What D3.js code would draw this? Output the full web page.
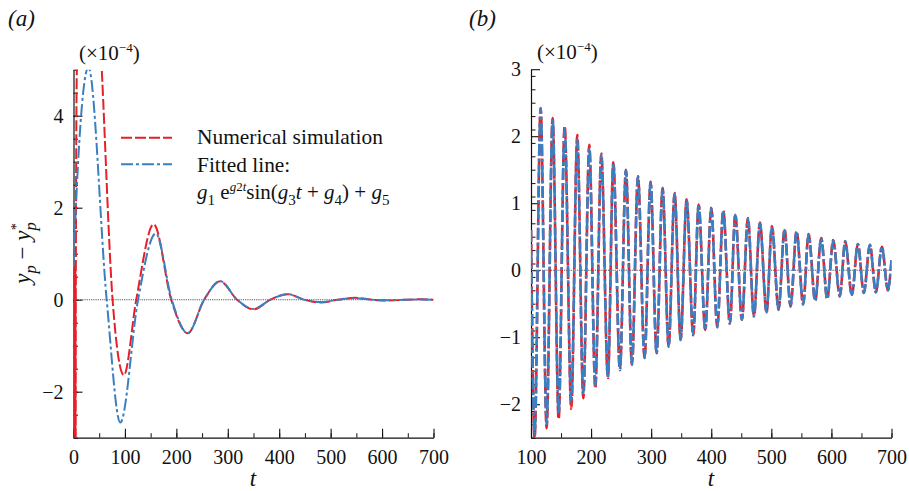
<!DOCTYPE html>
<html>
<head>
<meta charset="utf-8">
<script src="https://cdn.jsdelivr.net/npm/d3@7"></script>
<style>
  html, body { margin: 0; padding: 0; background: #fff; }
  svg { display: block; }
  svg text { font-family: 'Liberation Serif', 'Times New Roman', Times, 'DejaVu Serif', serif; fill: #111; }
</style>
</head>
<body>
<svg id="chart" width="909" height="491"></svg>
<script>
// ---------------- DATA ----------------
// Panel (a): numerical simulation (red) key points
const aNumT = [0, 0.5, 1, 1.5, 2, 2.5, 3, 3.5, 4, 4.6, 6.5, 28, 55, 76, 98, 122, 156, 190, 222, 254, 285, 318, 350, 383, 416, 449, 481, 514, 547, 580, 612, 645, 678, 700];
const aNumY = [-8, 0.7, -8, 0.7, -8, 0.7, -8, 0.7, -8, 0.7, 5, 11, 5, 0, -1.64, 0, 1.64, 0, -0.73, 0, 0.40, 0, -0.21, 0, 0.12, 0, -0.06, 0, 0.04, 0, -0.02, 0, 0.01, 0];
// Panel (a): fitted line (blue)
const aFitT = [0, 9, 29, 64.5, 91, 125.5, 160, 191, 222, 254, 286, 318, 350, 383, 416, 449, 481, 514, 547, 580, 612, 645, 678, 700];
const aFitY = [0.8, 3.0, 5.05, 0, -2.67, 0, 1.44, 0, -0.73, 0, 0.40, 0, -0.20, 0, 0.12, 0, -0.05, 0, 0.03, 0, -0.012, 0, 0.005, 0];

// Panel (b): extremes
const bPeakT = [116, 136, 156, 177, 197, 217, 237, 258, 278, 299, 319, 339, 359, 379, 400, 420, 440, 461, 481, 501, 522, 542, 562, 583, 603, 623, 644, 664, 684];
const bTroughT = [106, 126, 146, 167, 187, 207, 228, 248, 268, 289, 309, 329, 349, 370, 390, 410, 431, 451, 471, 492, 512, 532, 553, 573, 593, 614, 634, 654, 674, 694];
const bNumPeakY = [2.42, 2.27, 2.15, 2.02, 1.87, 1.74, 1.61, 1.50, 1.40, 1.32, 1.23, 1.15, 1.06, 0.98, 0.93, 0.89, 0.83, 0.78, 0.71, 0.66, 0.61, 0.58, 0.54, 0.48, 0.45, 0.43, 0.39, 0.38, 0.35];
const bNumTroughY = [-2.50, -2.36, -2.22, -2.07, -1.91, -1.76, -1.61, -1.49, -1.41, -1.31, -1.24, -1.14, -1.04, -0.97, -0.89, -0.85, -0.80, -0.74, -0.69, -0.63, -0.59, -0.54, -0.51, -0.46, -0.43, -0.39, -0.37, -0.34, -0.33, -0.30];
const bFitPeakY = [2.42, 2.25, 2.12, 1.95, 1.82, 1.71, 1.59, 1.49, 1.40, 1.32, 1.22, 1.14, 1.05, 0.975, 0.925, 0.885, 0.826, 0.77, 0.70, 0.65, 0.60, 0.58, 0.54, 0.48, 0.44, 0.43, 0.39, 0.38, 0.35];
const bFitTroughY = [-2.45, -2.30, -2.14, -1.98, -1.84, -1.72, -1.60, -1.49, -1.41, -1.31, -1.24, -1.14, -1.04, -0.965, -0.89, -0.85, -0.80, -0.74, -0.69, -0.63, -0.59, -0.54, -0.51, -0.46, -0.43, -0.39, -0.37, -0.34, -0.33, -0.30];
const bStartT = 100, bStartY = 0.6, bEndT = 700, bEndY = 0.15;

// Ticks
const aXTicks = [0, 100, 200, 300, 400, 500, 600, 700];
const aYTicks = [-2, 0, 2, 4];
const bXTicks = [100, 200, 300, 400, 500, 600, 700];
const bYTicks = [-2, -1, 0, 1, 2, 3];

const RED = "#e6202a";
const BLUE = "#3a7fc1";
const FONT = "'Liberation Serif', 'Times New Roman', Times, 'DejaVu Serif', serif";

// ---------------- DRAW ----------------
const svg = d3.select("#chart");

function makePanel(opt) {
  const g = svg.append("g");
  const x = d3.scaleLinear().domain(opt.xDom).range(opt.xRange);
  const y = d3.scaleLinear().domain(opt.yDom).range(opt.yRange);
  const clipId = "clip" + opt.id;
  svg.append("clipPath").attr("id", clipId).append("rect")
    .attr("x", opt.xRange[0]).attr("y", opt.yRange[1])
    .attr("width", opt.xRange[1] - opt.xRange[0])
    .attr("height", opt.yRange[0] - opt.yRange[1]);

  // minor ticks
  g.append("g").attr("transform", `translate(0,${opt.yRange[0]})`)
    .call(d3.axisBottom(x).tickValues(d3.range(opt.xDom[0], opt.xDom[1] + 0.001, 50)).tickFormat("").tickSizeInner(-4.5).tickSizeOuter(0))
    .call(s => s.select(".domain").remove());
  g.append("g").attr("transform", `translate(${opt.xRange[0]},0)`)
    .call(d3.axisLeft(y).tickValues(d3.range(opt.yDom[0], opt.yDom[1] + 1e-6, opt.yMinor)).tickFormat("").tickSizeInner(-4.5).tickSizeOuter(0))
    .call(s => s.select(".domain").remove());

  // major axes
  const xa = g.append("g").attr("transform", `translate(0,${opt.yRange[0]})`)
    .call(d3.axisBottom(x).tickValues(opt.xTicks).tickFormat(d3.format("d")).tickSizeInner(-9).tickSizeOuter(0).tickPadding(12));
  const ya = g.append("g").attr("transform", `translate(${opt.xRange[0]},0)`)
    .call(d3.axisLeft(y).tickValues(opt.yTicks).tickFormat(d => d < 0 ? "\u2212" + Math.abs(d) : d).tickSizeInner(-9).tickSizeOuter(0).tickPadding(10));
  [xa, ya].forEach(a => {
    a.attr("font-family", FONT).attr("font-size", 20);
    a.selectAll("text").attr("font-size", 20).attr("font-family", FONT).attr("fill", "#111");
    a.select(".domain").attr("stroke", "#111").attr("stroke-width", 1.2);
    a.selectAll(".tick line").attr("stroke", "#111").attr("stroke-width", 1.1);
  });
  g.selectAll(".tick line").attr("stroke", "#111");

  // zero line
  g.append("line")
    .attr("x1", opt.xRange[0]).attr("x2", opt.xRange[1])
    .attr("y1", y(0)).attr("y2", y(0))
    .attr("stroke", "#555").attr("stroke-width", 1.1).attr("stroke-dasharray", "1.2,1");

  const line = d3.line().x(d => x(d[0])).y(d => y(d[1])).curve(d3.curveMonotoneX);
  const plot = g.append("g").attr("clip-path", `url(#${clipId})`);
  plot.append("path").datum(opt.num).attr("d", line)
    .attr("fill", "none").attr("stroke", RED).attr("stroke-width", opt.lw).attr("stroke-dasharray", "11,3");
  plot.append("path").datum(opt.fit).attr("d", line)
    .attr("fill", "none").attr("stroke", BLUE).attr("stroke-width", opt.lw).attr("stroke-dasharray", "12,3,3,3");
  return { g, x, y };
}

const aNum = aNumT.map((t, i) => [t, aNumY[i]]);
const aFit = aFitT.map((t, i) => [t, aFitY[i]]);

function buildB(peakY, troughY) {
  const pts = [[bStartT, bStartY]];
  bTroughT.forEach((t, i) => pts.push([t, troughY[i]]));
  bPeakT.forEach((t, i) => pts.push([t, peakY[i]]));
  pts.push([bEndT, bEndY]);
  return pts.sort((a, b) => a[0] - b[0]);
}
const bNum = buildB(bNumPeakY, bNumTroughY);
const bFit = buildB(bFitPeakY, bFitTroughY);

makePanel({ id: "a", xDom: [0, 700], xRange: [73.5, 433.5], yDom: [-3, 5], yRange: [437.7, 69.7],
  yMinor: 0.5, xTicks: aXTicks, yTicks: aYTicks, num: aNum, fit: aFit, lw: 2 });
makePanel({ id: "b", xDom: [100, 700], xRange: [531, 891.5], yDom: [-2.5, 3], yRange: [437.7, 69.2],
  yMinor: 0.2, xTicks: bXTicks, yTicks: bYTicks, num: bNum, fit: bFit, lw: 2.6 });

// ---------------- TEXT ----------------
function txt(xp, yp, size) {
  return svg.append("text").attr("x", xp).attr("y", yp).attr("font-size", size).attr("font-family", FONT).attr("fill", "#111");
}
function rich(parent, segs, size) {
  let cur = 0;
  segs.forEach(s => {
    const [t, st = ""] = s;
    const ts = parent.append("tspan").text(t);
    let target = 0, fs = size;
    if (st.includes("sub")) { target = size * 0.28; fs = size * 0.72; }
    if (st.includes("sup")) { target = -size * 0.4; fs = size * 0.62; }
    if (st.includes("i")) ts.attr("font-style", "italic");
    ts.attr("font-size", fs);
    if (target !== cur) { ts.attr("dy", target - cur); cur = target; }
    if (s[2] !== undefined) ts.attr("dx", s[2]);
  });
}

// panel letters
txt(8, 26, 23).attr("font-style", "italic").text("(a)");
txt(469, 26, 23).attr("font-style", "italic").text("(b)");

// exponent labels
function expo(xp, yp) {
  const t = txt(xp, yp, 21);
  rich(t, [["(\u00d710", ""], ["\u22124", "sup"], [")", ""]], 21);
}
expo(79, 60);
expo(537, 59);

// axis titles
txt(253, 486, 23).attr("font-style", "italic").attr("text-anchor", "middle").text("t");
txt(711, 486, 23).attr("font-style", "italic").attr("text-anchor", "middle").text("t");

const yl = svg.append("text").attr("transform", "translate(30,253) rotate(-90)").attr("text-anchor", "middle")
  .attr("font-size", 23).attr("font-family", FONT).attr("fill", "#111");
rich(yl, [["y", "i"], ["p", "i sub"], [" \u2212 ", ""], ["y", "i"], ["p", "i sub"], ["*", "sup", -8]], 23);

// legend
svg.append("line").attr("x1", 121).attr("x2", 172).attr("y1", 137.7).attr("y2", 137.7)
  .attr("stroke", RED).attr("stroke-width", 2).attr("stroke-dasharray", "11,3");
svg.append("line").attr("x1", 121).attr("x2", 172).attr("y1", 164.3).attr("y2", 164.3)
  .attr("stroke", BLUE).attr("stroke-width", 2).attr("stroke-dasharray", "12,3,3,3");
txt(197, 144, 21.4).text("Numerical simulation");
txt(197, 172, 21.4).text("Fitted line:");
const ft = txt(197, 199, 21);
rich(ft, [["g", "i"], ["1", "sub"], [" e", ""], ["g", "i sup"], ["2", "sup"], ["t", "i sup"], ["sin(", ""], ["g", "i"], ["3", "sub"], ["t", "i"], [" + ", ""], ["g", "i"], ["4", "sub"], [") + ", ""], ["g", "i"], ["5", "sub"]], 21);
</script>
</body>
</html>
